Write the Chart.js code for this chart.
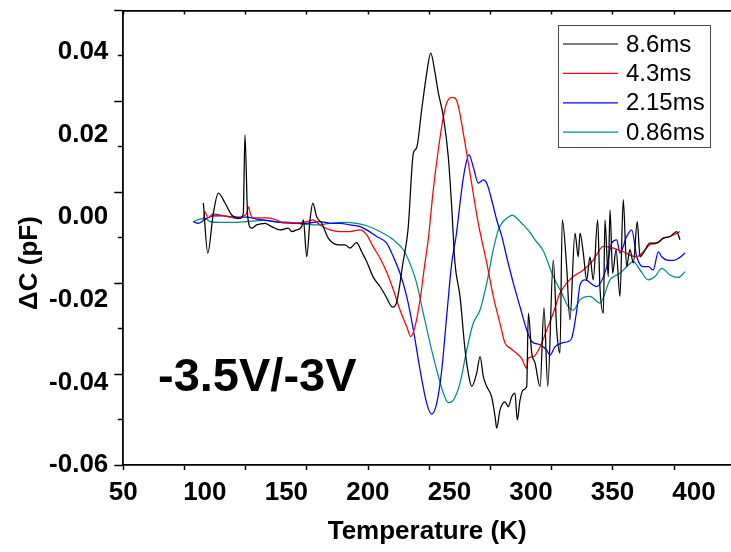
<!DOCTYPE html>
<html>
<head>
<meta charset="utf-8">
<script src="https://cdn.jsdelivr.net/npm/chart.js@4.4.0/dist/chart.umd.min.js"></script>
<style>
  html, body { margin: 0; padding: 0; background: #ffffff; overflow: hidden; }
  canvas { display: block; }
</style>
</head>
<body>
<canvas id="dlts" width="731" height="552"></canvas>
<script>
// Series names (rate windows) and line colours
const seriesLabels = ['8.6ms', '4.3ms', '2.15ms', '0.86ms'];
const seriesColors = ['#000000', '#ff0000', '#0000ff', '#008b8b'];

// Tick labels
const temperatureTicks = [50, 100, 150, 200, 250, 300, 350, 400];
const capacitanceTicks = [-0.06, -0.04, -0.02, 0.00, 0.02, 0.04];

// Bias condition shown on the plot
const biasLabel = '-3.5V/-3V';

// ΔC (pF) versus temperature (K), one trace per rate window: [T, ΔC]
const trace86 = [
  [99.1, 0.0034], [101.8, -0.0087], [105.2, 0.0009], [108.3, 0.0058], [112.4, 0.0034],
  [116.5, 0.0005], [121.6, -0.0003], [123.6, 0.0009], [124.6, 0.0199], [126.3, 0.0001],
  [128.7, -0.0027], [131.8, -0.0019], [136.9, -0.0015], [141.0, -0.0023], [146.1, -0.0031],
  [151.2, -0.0027], [153.3, -0.0035], [156.3, -0.0031], [159.4, -0.0023], [160.4, -0.0007],
  [162.5, -0.0096], [164.5, -0.0007], [166.2, 0.0034], [168.6, 0.0001], [171.7, -0.0015],
  [175.7, -0.0051], [181.9, -0.0067], [186.0, -0.0067], [189.0, -0.0075], [193.1, -0.0062],
  [196.2, -0.0084], [199.3, -0.0108], [203.1, -0.0144], [207.4, -0.0168], [210.5, -0.0188],
  [215.2, -0.0218], [217.7, -0.0205], [221.5, -0.0111], [224.6, -0.0031], [227.9, 0.0155],
  [229.9, 0.0168], [233.0, 0.0260], [236.1, 0.0349], [238.5, 0.0397], [241.2, 0.0349],
  [243.2, 0.0301], [246.3, 0.0243], [249.3, 0.0146], [251.4, 0.0025], [253.4, -0.0111],
  [256.5, -0.0192], [259.6, -0.0322], [261.6, -0.0378], [263.7, -0.0410], [266.7, -0.0378],
  [268.8, -0.0338], [270.8, -0.0386], [272.9, -0.0410], [275.9, -0.0435], [278.0, -0.0483],
  [279.0, -0.0511], [281.0, -0.0467], [284.1, -0.0447], [286.1, -0.0459], [288.2, -0.0435],
  [290.2, -0.0426], [291.6, -0.0491], [293.3, -0.0443], [295.3, -0.0418], [297.4, -0.0410],
  [298.4, -0.0233], [300.5, -0.0330], [302.5, -0.0353], [305.6, -0.0410], [308.0, -0.0220],
  [310.3, -0.0410], [313.7, -0.0104], [315.8, -0.0273], [317.8, -0.0329], [319.2, -0.0007],
  [321.9, -0.0120], [323.9, -0.0249], [327.0, -0.0039], [329.0, -0.0096], [330.1, -0.0039],
  [332.1, -0.0087], [334.2, -0.0152], [336.2, -0.0096], [338.2, -0.0152], [340.9, -0.0007],
  [342.3, -0.0168], [344.4, -0.0233], [345.4, -0.0007], [347.4, -0.0144], [348.5, 0.0017],
  [350.1, -0.0136], [352.2, -0.0079], [354.6, -0.0192], [356.6, 0.0042], [358.7, -0.0120],
  [360.7, -0.0079], [362.8, -0.0111], [365.2, -0.0011], [366.9, -0.0096], [368.9, -0.0087],
  [373.0, -0.0063], [377.1, -0.0063], [381.2, -0.0051], [385.3, -0.0047], [389.4, -0.0035],
  [391.4, -0.0055]
];

const trace43 = [
  [99.1, -0.0007], [100.1, 0.0013], [101.9, -0.0002], [105.0, 0.0008], [109.3, 0.0005],
  [115.4, 0.0000], [120.3, -0.0004], [124.0, 0.0003], [125.7, 0.0010], [126.7, 0.0025],
  [128.0, 0.0008], [129.5, -0.0002], [137.9, -0.0002], [144.1, -0.0007], [147.9, -0.0014],
  [156.3, -0.0014], [162.5, -0.0011], [166.3, -0.0007], [170.6, -0.0019], [176.8, -0.0031],
  [182.9, -0.0035], [189.0, -0.0035], [195.2, -0.0031], [199.3, -0.0043], [203.1, -0.0071],
  [207.4, -0.0099], [211.5, -0.0133], [215.6, -0.0176], [219.7, -0.0225], [223.8, -0.0265],
  [226.3, -0.0289], [228.9, -0.0265], [232.0, -0.0200], [235.0, -0.0111], [237.0, -0.0055],
  [240.1, 0.0066], [243.2, 0.0163], [246.3, 0.0243], [248.3, 0.0276], [251.4, 0.0290],
  [253.4, 0.0288], [255.5, 0.0268], [258.5, 0.0204], [261.6, 0.0131], [264.6, 0.0058],
  [267.7, -0.0015], [269.8, -0.0055], [272.9, -0.0111], [276.9, -0.0192], [281.0, -0.0257],
  [284.1, -0.0305], [287.2, -0.0317], [291.3, -0.0330], [294.3, -0.0342], [297.4, -0.0366],
  [298.4, -0.0341], [301.4, -0.0338], [305.6, -0.0314], [309.7, -0.0273], [313.7, -0.0232],
  [317.8, -0.0184], [321.9, -0.0160], [326.0, -0.0144], [332.1, -0.0128], [338.2, -0.0104],
  [344.4, -0.0071], [350.5, -0.0075], [356.6, -0.0084], [360.7, -0.0092], [364.9, -0.0096],
  [368.9, -0.0084], [373.0, -0.0067], [377.1, -0.0063], [381.2, -0.0051], [385.3, -0.0047],
  [391.4, -0.0035]
];

const trace215 = [
  [92.9, -0.0011], [96.0, -0.0015], [101.1, -0.0003], [105.2, 0.0003], [111.3, 0.0003],
  [117.5, 0.0000], [125.7, 0.0000], [131.8, -0.0005], [137.9, -0.0008], [146.1, -0.0013],
  [154.3, -0.0015], [162.5, -0.0015], [170.6, -0.0011], [176.8, -0.0015], [182.9, -0.0015],
  [189.0, -0.0019], [195.2, -0.0023], [199.3, -0.0031], [205.4, -0.0047], [211.5, -0.0063],
  [215.6, -0.0096], [219.7, -0.0136], [223.8, -0.0192], [227.9, -0.0273], [232.0, -0.0370],
  [236.1, -0.0451], [239.1, -0.0477], [242.2, -0.0451], [245.3, -0.0370], [248.3, -0.0241],
  [251.4, -0.0112], [254.2, -0.0043], [257.5, 0.0066], [259.6, 0.0119], [262.0, 0.0151],
  [264.6, 0.0122], [267.7, 0.0082], [270.8, 0.0090], [272.9, 0.0082], [275.9, 0.0042],
  [279.0, -0.0007], [282.1, -0.0046], [285.1, -0.0096], [289.2, -0.0160], [293.3, -0.0217],
  [297.4, -0.0273], [300.5, -0.0301], [305.6, -0.0309], [309.7, -0.0322], [311.7, -0.0334],
  [314.7, -0.0314], [318.9, -0.0305], [322.9, -0.0301], [325.0, -0.0293], [328.1, -0.0225],
  [330.1, -0.0164], [333.1, -0.0152], [340.3, -0.0168], [346.5, -0.0120], [349.5, -0.0063],
  [352.6, -0.0055], [354.6, -0.0087], [358.7, -0.0047], [361.8, -0.0031], [364.9, -0.0096],
  [368.9, -0.0120], [372.0, -0.0120], [375.0, -0.0128], [378.1, -0.0084], [380.2, -0.0096],
  [383.3, -0.0104], [387.3, -0.0105], [390.4, -0.0100], [394.5, -0.0087]
];

const trace086 = [
  [92.9, -0.0011], [97.0, -0.0005], [100.1, -0.0003], [103.2, -0.0011], [109.3, -0.0013],
  [117.5, -0.0013], [125.7, -0.0011], [135.9, -0.0008], [144.1, -0.0011], [152.2, -0.0013],
  [160.4, -0.0017], [168.6, -0.0019], [176.8, -0.0015], [184.9, -0.0013], [193.1, -0.0015],
  [199.3, -0.0021], [207.4, -0.0035], [215.6, -0.0055], [221.7, -0.0079], [225.8, -0.0112],
  [229.9, -0.0160], [234.0, -0.0233], [238.1, -0.0305], [242.2, -0.0370], [246.3, -0.0426],
  [249.3, -0.0449], [252.4, -0.0443], [256.5, -0.0402], [260.6, -0.0322], [264.6, -0.0257],
  [268.8, -0.0225], [272.9, -0.0160], [276.9, -0.0079], [280.0, -0.0031], [282.1, -0.0015],
  [285.1, -0.0003], [288.6, 0.0005], [291.3, -0.0003], [295.3, -0.0019], [299.4, -0.0037],
  [302.5, -0.0055], [307.6, -0.0082], [313.7, -0.0144], [318.9, -0.0184], [322.9, -0.0217],
  [326.0, -0.0225], [330.1, -0.0200], [336.2, -0.0192], [342.3, -0.0208], [348.5, -0.0152],
  [354.6, -0.0136], [358.7, -0.0120], [362.8, -0.0108], [366.9, -0.0128], [372.0, -0.0152],
  [376.1, -0.0144], [380.2, -0.0124], [385.3, -0.0140], [390.4, -0.0146], [394.5, -0.0132]
];

const traces = [trace86, trace43, trace215, trace086];

const FONT = '"Liberation Sans", Arial, Helvetica, sans-serif';

// Layout of the plot frame (pixels)
const FRAME = { left: 123.3, top: 10.5, bottom: 465 };
const FRAME_X_STEPS = 9.93;   // evenly spaced frame ticks along x
const FRAME_Y_STEPS = 10;     // evenly spaced frame ticks along y (long/short alternating)

// keep the plot frame at fixed size: no extra room for overhanging labels
function fixBox(size) {
  return s => {
    if (s.isHorizontal()) s.height = size; else s.width = size;
    s.paddingTop = 0; s.paddingBottom = 0; s.paddingLeft = 0; s.paddingRight = 0;
  };
}
const stepTicks = (from, to, step) => s => {
  const t = [];
  for (let v = from; v <= to + 1e-9; v += step) t.push({ value: v });
  s.ticks = t;
};

// Legend box, y-axis title and bias label drawn on top of the plot
const overlayPlugin = {
  id: 'overlay',
  afterDraw(chart) {
    const ctx = chart.ctx;
    ctx.save();

    // y-axis title
    ctx.save();
    ctx.translate(37, 263);
    ctx.rotate(-Math.PI / 2);
    ctx.fillStyle = '#000';
    ctx.font = 'bold 26px ' + FONT;
    ctx.textAlign = 'center';
    ctx.textBaseline = 'alphabetic';
    ctx.fillText('\u0394C (pF)', 0, 0);
    ctx.restore();

    // bias label
    ctx.fillStyle = '#000';
    ctx.font = 'bold 47px ' + FONT;
    ctx.textAlign = 'left';
    ctx.textBaseline = 'alphabetic';
    ctx.fillText(biasLabel, 158, 391);

    // legend
    const box = { x: 558.5, y: 25.5, w: 152, h: 122 };
    ctx.fillStyle = '#ffffff';
    ctx.fillRect(box.x, box.y, box.w, box.h);
    ctx.strokeStyle = '#4d4d4d';
    ctx.lineWidth = 1;
    ctx.strokeRect(box.x, box.y, box.w, box.h);
    ctx.font = '24px ' + FONT;
    ctx.textBaseline = 'middle';
    chart.data.datasets.forEach((ds, i) => {
      const y = 44 + i * 29.4;
      ctx.strokeStyle = ds.borderColor;
      ctx.lineWidth = 1.2;
      ctx.beginPath();
      ctx.moveTo(563, y);
      ctx.lineTo(618, y);
      ctx.stroke();
      ctx.fillStyle = '#000';
      ctx.fillText(ds.label, 626, y + 1);
    });
    ctx.restore();
  }
};

const frameAxis = (position, max, ticksFn, size, tickLength, withBorder, weight) => ({
  type: 'linear',
  position,
  weight,
  min: 0,
  max,
  afterBuildTicks: ticksFn,
  afterFit: fixBox(size),
  grid: { drawOnChartArea: false, drawTicks: true, tickLength, tickColor: '#000', tickWidth: 1.5 },
  border: { display: withBorder, color: '#000', width: 1.8 },
  ticks: { display: false }
});

const chart = new Chart(document.getElementById('dlts'), {
  type: 'line',
  data: {
    datasets: traces.map((tr, i) => ({
      label: seriesLabels[i],
      data: tr.map(([t, c]) => ({ x: t, y: c })),
      borderColor: seriesColors[i],
      backgroundColor: seriesColors[i],
      borderWidth: 1.25,
      pointRadius: 0,
      fill: false,
      cubicInterpolationMode: 'monotone',
      xAxisID: 'x',
      yAxisID: 'y'
    }))
  },
  options: {
    responsive: false,
    animation: false,
    devicePixelRatio: 1,
    layout: { padding: 0 },
    plugins: {
      legend: { display: false },
      tooltip: { enabled: false }
    },
    scales: {
      x: {
        type: 'linear',
        position: 'bottom',
        weight: 2,
        min: 50,
        max: 50 + (731 - FRAME.left) / 1.6306,
        afterBuildTicks: s => { s.ticks = temperatureTicks.map(v => ({ value: v })); },
        afterFit: fixBox(552 - FRAME.bottom),
        grid: { display: false, drawTicks: false },
        border: { display: false },
        ticks: {
          autoSkip: false, maxRotation: 0, padding: 12,
          color: '#000',
          font: { family: FONT, size: 26, weight: 'bold' },
          callback: v => String(v)
        },
        title: {
          display: true,
          text: 'Temperature (K)',
          color: '#000',
          font: { family: FONT, size: 26, weight: 'bold' },
          padding: { top: 0, bottom: 5 }
        }
      },
      xFrame: frameAxis('bottom', FRAME_X_STEPS, stepTicks(0, 9, 1), 0, 5, true, 0),
      xTop: frameAxis('top', FRAME_X_STEPS, stepTicks(0, 9, 1), FRAME.top, -4, true, 0),
      y: {
        type: 'linear',
        position: 'left',
        weight: 2,
        min: -0.06,
        max: 0.05,
        afterBuildTicks: s => { s.ticks = capacitanceTicks.map(v => ({ value: v })); },
        afterFit: fixBox(FRAME.left),
        grid: { display: false, drawTicks: false },
        border: { display: false },
        ticks: {
          padding: 15,
          color: '#000',
          font: { family: FONT, size: 26, weight: 'bold' },
          callback: v => Number(v).toFixed(2)
        }
      },
      yFrame: frameAxis('left', FRAME_Y_STEPS, stepTicks(0, 10, 2), 0, 9, true, 0),
      yFrameShort: frameAxis('left', FRAME_Y_STEPS, stepTicks(1, 9, 2), 0, 5.5, false, 1)
    }
  },
  plugins: [overlayPlugin]
});
</script>
</body>
</html>
